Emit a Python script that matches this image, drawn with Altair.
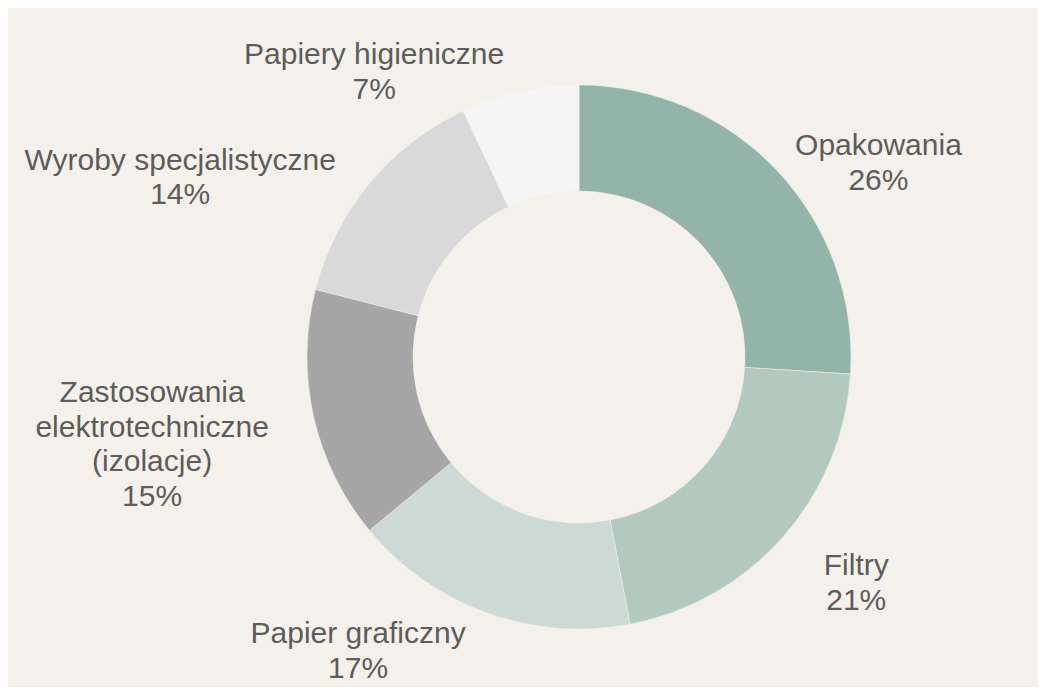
import math
import altair as alt
import pandas as pd

# ---- data ----
categories = [
    "Opakowania",
    "Filtry",
    "Papier graficzny",
    "Zastosowania\nelektrotechniczne\n(izolacje)",
    "Wyroby specjalistyczne",
    "Papiery higieniczne",
]
shares = [26, 21, 17, 15, 14, 7]
colors = ["#95b4a9", "#b3c9c0", "#cdd9d4", "#a6a6a6", "#d9d9d9", "#f5f5f5"]

# ---- layout / style constants ----
W, H = 1030, 679
CX, CY = 571, 349
R_OUT, R_IN = 272, 166
GAP = 40
FONT = 30
LINE_H = 34.5
CHAR_W = 0.48 * FONT
LABEL_DY = 20
EDGE = 1

# label placement computed from the values (outside-end, pushed outward)
total = sum(shares)
rows = []
cum = 0
for i, (c, v) in enumerate(zip(categories, shares)):
    mid = (cum + v / 2) / total * 2 * math.pi
    cum += v
    s, co = math.sin(mid), math.cos(mid)
    lines = c.split("\n")
    n_lines = len(lines) + 1
    hw = CHAR_W * max(len(l) for l in lines) / 2
    half_h = n_lines * LINE_H / 2
    ax = CX + (R_OUT + GAP) * s
    ay = CY - (R_OUT + GAP) * co + LABEL_DY
    # keep the whole block inside the chart
    ay = max(half_h + EDGE, min(H - half_h - EDGE, ay))
    lx = ax + (hw if s >= 0 else -hw)
    # vega puts the first line at y; shift so the block is centred
    ly = ay - (n_lines - 1) * LINE_H / 2
    rows.append({
        "order": i,
        "category": c,
        "value": v,
        "label": f"{c}\n{v}%",
        "lx": lx,
        "ly": ly,
    })
df = pd.DataFrame(rows)

base = alt.Chart(df)

arcs = base.mark_arc(innerRadius=R_IN, outerRadius=R_OUT, stroke="#f4f1ea", strokeWidth=0.5).encode(
    theta=alt.Theta("value:Q", stack=True),
    order=alt.Order("order:Q"),
    color=alt.Color("category:N", scale=alt.Scale(domain=categories, range=colors), legend=None),
    x=alt.value(CX),
    y=alt.value(CY),
)

labels = base.mark_text(
    align="center",
    baseline="middle",
    lineBreak="\n",
    lineHeight=LINE_H,
    font="Liberation Sans",
    fontSize=FONT,
    color="#5c5c5c",
).encode(
    x=alt.X("lx:Q", scale=None),
    y=alt.Y("ly:Q", scale=None),
    text="label:N",
)

chart = alt.layer(arcs, labels).properties(
    width=W,
    height=H,
    padding=0,
    autosize=alt.AutoSizeParams(type="none"),
    background="#f4f1ea",
).configure_view(stroke=None)

chart.save("out.html", embed_options={"renderer": "svg", "actions": False})
